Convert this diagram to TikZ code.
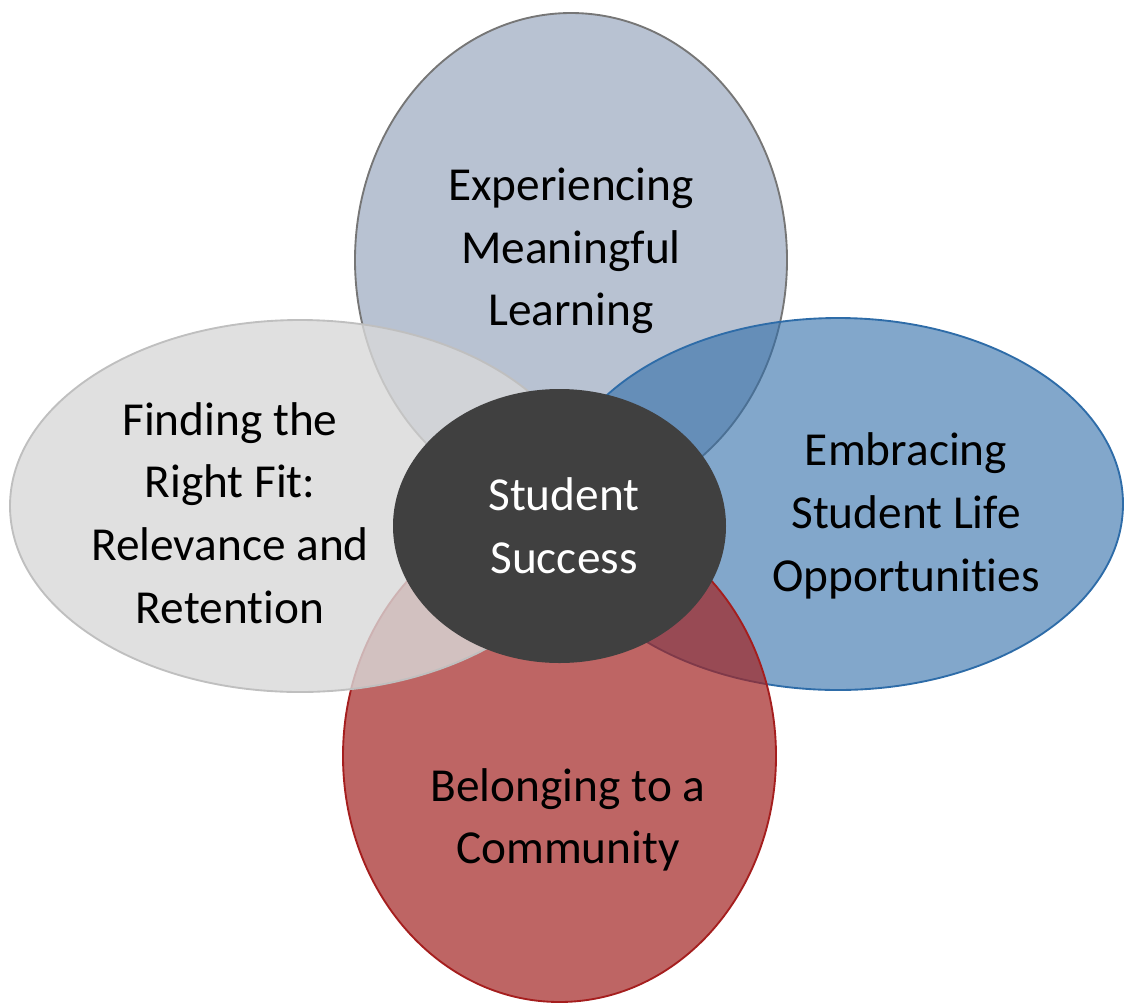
\documentclass[tikz,border=0pt]{standalone}
\usepackage{fontspec}
\setmainfont{Carlito}[Ligatures=NoCommon]
\usepackage{tikz}
\usetikzlibrary{shapes,positioning}
\definecolor{learnfill}{RGB}{154,168,191}
\definecolor{learnline}{RGB}{118,118,118}
\definecolor{lifefill}{RGB}{47,108,168}
\definecolor{lifeline}{RGB}{46,108,168}
\definecolor{commfill}{RGB}{162,36,34}
\definecolor{commline}{RGB}{165,30,30}
\definecolor{fitfill}{RGB}{216,216,216}
\definecolor{fitline}{RGB}{191,191,191}
\definecolor{core}{RGB}{64,64,64}
\tikzset{
	petal/.style = {draw, ellipse, inner sep=0pt, line width=1.4pt},
	hub/.style = {ellipse, fill=core, inner sep=0pt, minimum width=249.75pt, minimum height=205.5pt},
	txtbox/.style = {align=center, font=\fontsize{35.5}{47}\selectfont}
}

\begin{document}
\begin{tikzpicture}[x=0.75pt,y=-0.75pt]
	\useasboundingbox (0,0) rectangle (1125,1004);
	\node [petal, draw=learnline, fill=learnfill, fill opacity=0.7,
		minimum width=324pt, minimum height=370.5pt] (learning) at (571,260) {};
	\node [petal, draw=lifeline, fill=lifefill, fill opacity=0.6,
		minimum width=427.5pt, minimum height=279pt] (life) at (838,504) {};
	\node [petal, draw=commline, fill=commfill, fill opacity=0.7,
		minimum width=324.75pt, minimum height=369pt] (community) at (559.5,756) {};
	\node [petal, draw=fitline, fill=fitfill, fill opacity=0.8,
		minimum width=435pt, minimum height=279pt] (fit) at (300,506) {};
	\node [hub] (success) at (559.5,526) {};

	\node [txtbox] (learningtxt) at (571,251) {Experiencing\\Meaningful\\Learning};
	\node [txtbox] (lifetxt) at (906,516) {Embracing\\Student Life\\Opportunities};
	\node [txtbox] (commtxt) at (568,820) {Belonging to a\\Community};
	\node [txtbox] (fittxt) at (230,513) {Finding the\\Right Fit:\\Relevance and\\Retention};
	\node [txtbox, text=white] (successtxt) at (564,526) {Student\\Success};
\end{tikzpicture}
\end{document}
